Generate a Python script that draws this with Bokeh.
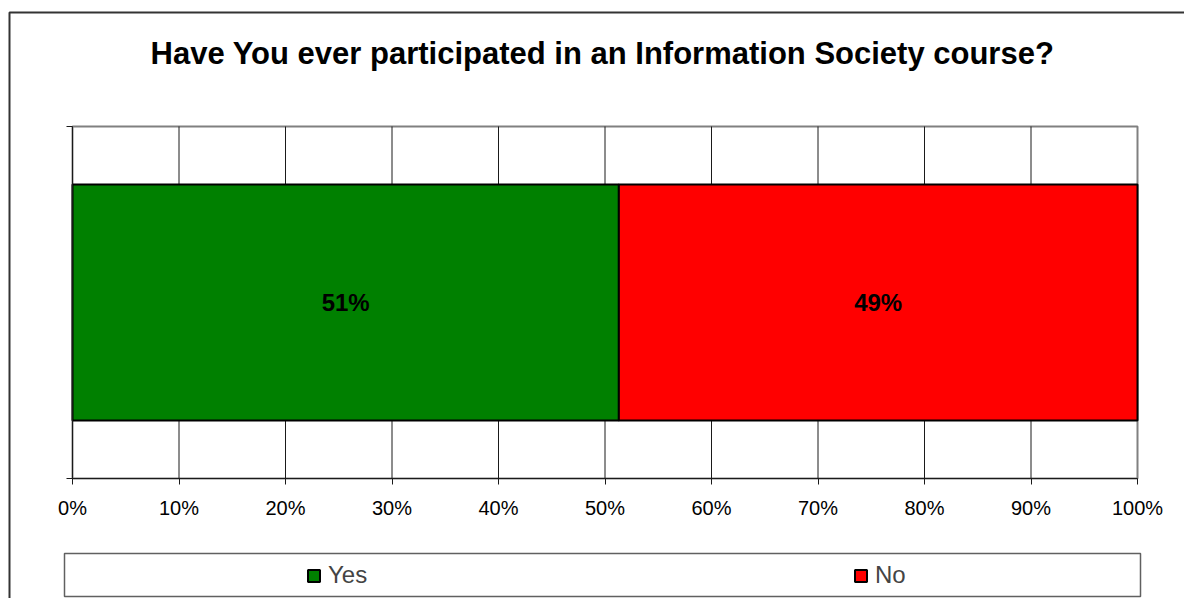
from bokeh.plotting import figure
from bokeh.models import (FixedTicker, NumeralTickFormatter, Label, Legend, LegendItem,
                          BoxAnnotation, ColumnDataSource, LinearAxis, Range1d)
from bokeh.core.properties import value
from bokeh.embed import file_html
from bokeh.resources import INLINE

# ---- data ----
title_text = "Have You ever participated in an Information Society course?"
answers = ["Yes", "No"]
shares = [0.513, 0.487]
share_labels = ["51%", "49%"]
colors = ["#008000", "#FF0000"]
x_ticks = [0.0, 0.1, 0.2, 0.3, 0.4, 0.5, 0.6, 0.7, 0.8, 0.9, 1.0]

lefts, rights, mids = [], [], []
acc = 0.0
for s in shares:
    lefts.append(acc)
    rights.append(acc + s)
    mids.append(acc + s / 2)
    acc += s

src = ColumnDataSource(dict(answer=answers, left=lefts, right=rights, mid=mids,
                            y=[0.5] * len(answers), label=share_labels, color=colors))

FONT = "Liberation Sans"

W, H = 1184, 598
# plot area in canvas pixels
FL, FR, FT, FB = 72, 1137, 126, 478
PXX = 1.0 / (FR - FL)
PXY = 1.0 / (FB - FT)

p = figure(width=W, height=H,
           x_range=Range1d(-FL * PXX, 1 + (W - FR) * PXX),
           y_range=Range1d(-(H - FB) * PXY, 1 + FT * PXY),
           output_backend="svg", toolbar_location=None,
           x_axis_type=None, y_axis_type=None,
           min_border=0, min_border_left=0, min_border_right=0,
           min_border_top=0, min_border_bottom=0,
           outline_line_color=None,
           background_fill_color="white", border_fill_color="white")
p.grid.visible = False

# plot area outline (top/right edges grey)
p.add_layout(BoxAnnotation(left=0, right=1, bottom=0, top=1, fill_alpha=0,
                           line_color="#808080", line_alpha=1.0, line_width=2,
                           level="underlay"))

# vertical grid lines
grid_x = x_ticks[1:-1]
p.segment(x0=grid_x, x1=grid_x, y0=[0] * len(grid_x), y1=[1] * len(grid_x),
          line_color="#1a1a1a", line_width=1)

r = p.hbar(y="y", left="left", right="right", height=0.67, fill_color="color",
           line_color="black", line_width=2, source=src)

p.text(x="mid", y="y", text="label", text_align="center", text_baseline="middle",
       text_font=value(FONT), text_font_style="bold", text_font_size="24px",
       text_color="black", source=src)

# x axis
xa = LinearAxis(fixed_location=0, bounds=(0, 1))
xa.ticker = FixedTicker(ticks=x_ticks)
xa.formatter = NumeralTickFormatter(format="0%")
xa.axis_line_color = "#1a1a1a"
xa.axis_line_width = 1
xa.major_tick_line_color = "#1a1a1a"
xa.major_tick_out = 6
xa.major_tick_in = 0
xa.minor_tick_line_color = None
xa.major_label_text_font = FONT
xa.major_label_text_font_size = "20px"
xa.major_label_text_color = "black"
xa.major_label_standoff = 12
p.add_layout(xa, "below")

# y axis
ya = LinearAxis(fixed_location=0, bounds=(0, 1))
ya.ticker = FixedTicker(ticks=[0, 1])
ya.major_label_overrides = {0: "", 1: ""}
ya.axis_line_color = "#1a1a1a"
ya.major_tick_line_color = "#1a1a1a"
ya.major_tick_out = 6
ya.major_tick_in = 0
ya.minor_tick_line_color = None
p.add_layout(ya, "left")

# title
p.add_layout(Label(x=(602 - FL) * PXX, y=(FB - 53) * PXY,
                   text=title_text, text_align="center",
                   text_baseline="middle", text_font=FONT, text_font_style="bold",
                   text_font_size="31px", text_color="black"))

# legend box
p.add_layout(BoxAnnotation(left=(64 - FL) * PXX, right=(1140 - FL) * PXX,
                           top=(FB - 553) * PXY, bottom=(FB - 596) * PXY,
                           fill_alpha=0, line_color="#606060", line_alpha=1.0,
                           line_width=1.5))
# outer chart frame (left and top edges visible)
p.add_layout(BoxAnnotation(left=(9 - FL) * PXX, right=(1300 - FL) * PXX,
                           top=(FB - 12) * PXY, bottom=(FB - 700) * PXY,
                           fill_alpha=0, line_color="#333333", line_alpha=1.0,
                           line_width=2))

# legends
for i, (ans, gx) in enumerate(zip(answers, [306, 853])):
    lg = Legend(items=[LegendItem(label=ans, renderers=[r], index=i)],
                location=(gx, H - 589), padding=0, margin=0,
                glyph_width=15, glyph_height=15, label_standoff=7,
                label_text_font=FONT, label_text_font_size="24px",
                border_line_color=None, background_fill_alpha=0)
    p.add_layout(lg)

open("out.html", "w").write(file_html(p, INLINE))
